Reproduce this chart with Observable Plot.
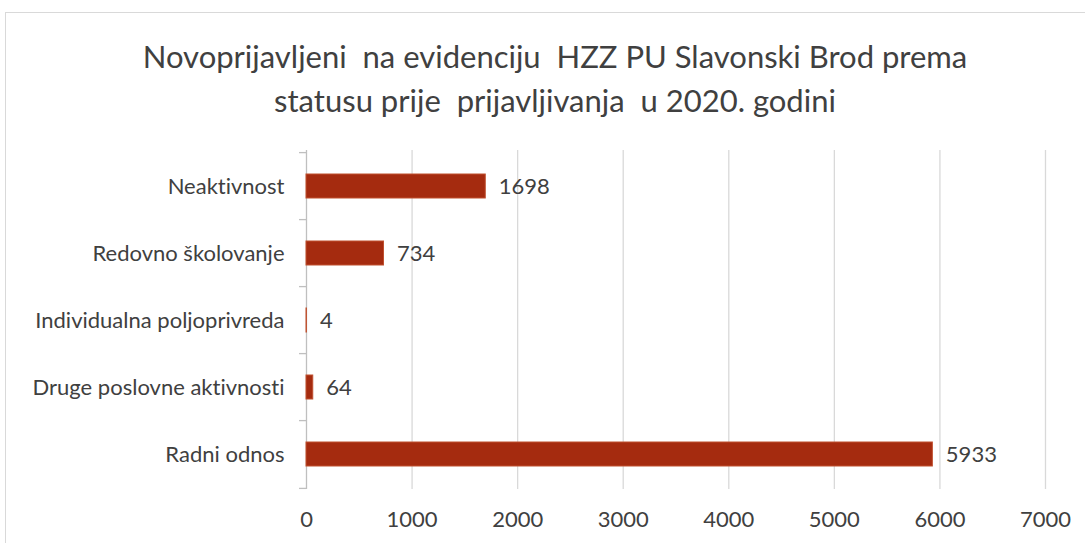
<!DOCTYPE html>
<html>
<head>
<meta charset="utf-8">
<script src="https://cdn.jsdelivr.net/npm/d3@7"></script>
<script src="https://cdn.jsdelivr.net/npm/@observablehq/plot@0.6"></script>
<style>
  html, body { margin: 0; padding: 0; background: #fff; width: 1085px; height: 543px; overflow: hidden; }
  * { font-variant-ligatures: none; font-feature-settings: "liga" 0; }
  #frame { position: absolute; left: 5px; top: 12px; width: 1100px; height: 560px; border: 1.5px solid #d9d9d9; box-sizing: border-box; }
  #title { position: absolute; left: 0; top: 34px; width: 1110px; text-align: center; font-family: Lato, sans-serif; font-size: 31px; line-height: 44px; color: #404040; }
  #chart { position: absolute; left: 0; top: 140px; }
</style>
</head>
<body>
<div id="frame"></div>
<div id="title">Novoprijavljeni&nbsp; na evidenciju&nbsp; HZZ PU Slavonski Brod prema<br>statusu prije&nbsp; prijavljivanja&nbsp; u 2020. godini</div>
<div id="chart"></div>
<script>
const categories = ["Neaktivnost", "Redovno školovanje", "Individualna poljoprivreda", "Druge poslovne aktivnosti", "Radni odnos"];
const values = [1698, 734, 4, 64, 5933];
const xTicks = [0, 1000, 2000, 3000, 4000, 5000, 6000, 7000];

const data = categories.map((c, i) => ({category: c, value: values[i]}));

const height = 403, marginTop = 10, marginBottom = 54;
const step = (height - marginTop - marginBottom) / categories.length;

const plot = Plot.plot({
  width: 1085,
  height,
  marginLeft: 306,
  marginRight: 40,
  marginTop,
  marginBottom,
  style: {fontFamily: "Lato, sans-serif", color: "#404040", background: "transparent", overflow: "visible"},
  x: {domain: [0, 7000], ticks: xTicks, label: null},
  y: {domain: categories, paddingInner: 0.646, paddingOuter: 0.323, label: null},
  marks: [
    Plot.ruleX(xTicks.filter(d => d > 0), {stroke: "#d9d9d9", strokeWidth: 1.3}),
    Plot.ruleX([0], {stroke: "#bfbfbf", strokeWidth: 1.3}),
    Plot.ruleY(categories, {y: d => d, x1: -66, x2: 0, dy: -step / 2, stroke: "#bfbfbf", strokeWidth: 1.3}),
    Plot.ruleY(categories.slice(-1), {y: d => d, x1: -66, x2: 0, dy: step / 2, stroke: "#bfbfbf", strokeWidth: 1.3}),
    Plot.barX(data, {y: "category", x: "value", fill: "#a52b0f", stroke: "#c0502f", strokeWidth: 1}),
    Plot.text(data, {y: "category", x: "value", text: d => String(d.value), textAnchor: "start", dx: 13, fontSize: 22, fill: "#404040"}),
    Plot.axisY({tickSize: 0, tickPadding: 22, fontSize: 22, label: null}),
    Plot.axisX({ticks: xTicks, tickSize: 0, tickPadding: 22, fontSize: 22, label: null, tickFormat: d => String(d)})
  ]
});
document.getElementById("chart").appendChild(plot);
</script>
</body>
</html>
